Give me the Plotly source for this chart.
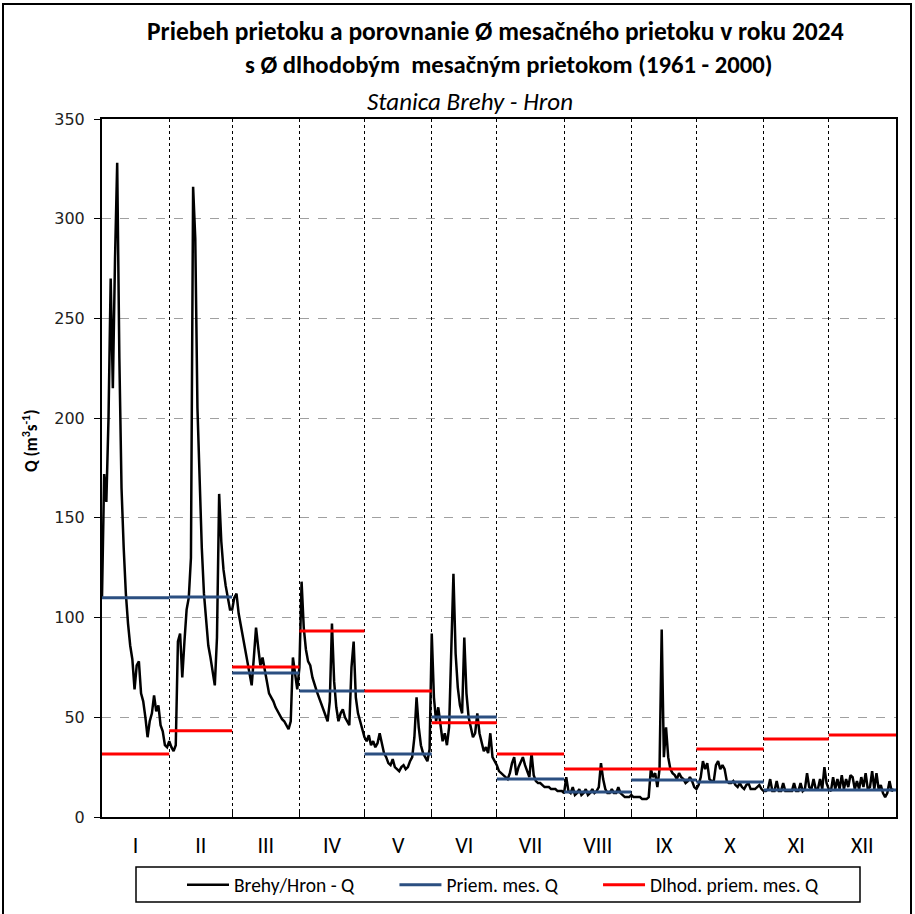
import plotly.graph_objects as go

# ---------------- data ----------------
months = ["I", "II", "III", "IV", "V", "VI", "VII", "VIII", "IX", "X", "XI", "XII"]
month_days = [31, 29, 31, 30, 31, 30, 31, 31, 30, 31, 30, 31]
series_names = ["Brehy/Hron - Q", "Priem. mes. Q", "Dlhod. priem. mes. Q"]

q_jan = [110, 172, 158, 200, 270, 215, 280, 328, 230, 165, 135, 112, 97, 86, 79, 64,
         76, 78, 62, 58, 50, 40, 48, 52, 61, 53, 56, 46, 43, 36, 35]
q_feb = [38, 35, 33, 36, 88, 92, 70, 88, 104, 110, 130, 316, 290, 205, 165, 135, 112,
         98, 86, 80, 74, 66, 90, 162, 138, 124, 116, 110, 104]
q_mar = [104, 110, 112, 102, 96, 90, 84, 78, 70, 66, 80, 95, 85, 76, 80, 74, 68, 62,
         60, 58, 55, 53, 51, 49, 48, 46, 44, 48, 80, 72, 64]
q_apr = [75, 118, 95, 84, 78, 76, 70, 66, 63, 60, 57, 54, 51, 48, 58, 97, 68, 55, 48,
         52, 54, 50, 48, 46, 75, 88, 60, 52, 48, 44]
q_may = [40, 38, 41, 36, 38, 35, 37, 42, 36, 32, 30, 27, 26, 29, 25, 24, 23, 25, 26,
         24, 25, 28, 30, 40, 60, 45, 36, 32, 30, 28, 34]
q_jun = [92, 60, 48, 55, 46, 38, 42, 36, 45, 80, 122, 82, 65, 56, 52, 90, 62, 50, 44,
         40, 42, 52, 42, 38, 33, 35, 32, 42, 30, 28]
q_jul = [26, 23, 22, 21, 20, 19, 22, 27, 30, 21, 25, 28, 30, 26, 23, 20, 32, 21, 18,
         17, 17, 16, 15, 15, 15, 14, 14, 14, 13, 13, 13]
q_aug = [12, 20, 13, 12, 15, 11, 12, 14, 11, 12, 14, 11, 12, 14, 12, 13, 15, 27, 19,
         14, 12, 12, 14, 12, 12, 15, 12, 11, 10, 10, 10]
q_sep = [11, 10, 10, 10, 10, 9, 9, 9, 10, 24, 20, 22, 15, 24, 94, 30, 45, 30, 24, 22,
         21, 19, 22, 20, 19, 17, 18, 20, 18, 15]
q_oct = [14, 16, 20, 28, 24, 27, 19, 18, 18, 26, 28, 24, 26, 24, 18, 17, 17, 18, 16,
         15, 17, 15, 14, 16, 17, 14, 14, 14, 15, 16, 14]
q_nov = [13, 13, 14, 19, 13, 13, 18, 13, 13, 17, 13, 13, 13, 13, 17, 13, 13, 17, 13,
         14, 22, 15, 14, 19, 14, 14, 19, 14, 25, 17]
q_dec = [14, 13, 20, 14, 19, 14, 21, 14, 19, 15, 21, 20, 14, 18, 14, 20, 15, 22, 14,
         15, 23, 14, 22, 14, 16, 12, 10, 12, 18, 13, 14]

monthly_mean_2024 = [110.0, 110.3, 72.2, 63.2, 31.6, 50.1, 19.1, 12.5, 18.6, 17.5, 13.5, 13.5]
longterm_mean = [31.6, 43.3, 75.2, 93.3, 63.2, 47.2, 31.6, 24.1, 24.1, 34.1, 39.1, 41.1]

# ---------------- derived ----------------
daily_q = (q_jan + q_feb + q_mar + q_apr + q_may + q_jun + q_jul + q_aug + q_sep
           + q_oct + q_nov + q_dec)
days = list(range(len(daily_q)))

starts = []
acc = 0
for n in month_days:
    starts.append(acc)
    acc += n
ends = [s + n for s, n in zip(starts, month_days)]
total_days = acc
centers = [(s + e) / 2 for s, e in zip(starts, ends)]

def step_segments(vals):
    xs, ys = [], []
    for s, e, v in zip(starts, ends, vals):
        xs += [s, e, None]
        ys += [v, v, None]
    return xs, ys

bx, by = step_segments(monthly_mean_2024)
rx, ry = step_segments(longterm_mean)

TXT = "Carlito, Lato, sans-serif"
NUM = "'DejaVu Sans', Verdana, sans-serif"
PAD = "\u00a0" * 8   # spacing between legend entries

fig = go.Figure()
fig.add_trace(go.Scatter(x=days, y=daily_q, mode="lines", name=series_names[0] + PAD,
                         line=dict(color="black", width=2.5)))
fig.add_trace(go.Scatter(x=bx, y=by, mode="lines", name=series_names[1] + PAD,
                         line=dict(color="#2B4F81", width=3)))
fig.add_trace(go.Scatter(x=rx, y=ry, mode="lines", name=series_names[2],
                         line=dict(color="#FF0000", width=3)))
fig.add_trace(go.Scatter(x=[0, total_days], y=[None, None], xaxis="x2",
                         showlegend=False, hoverinfo="skip"))

# body margin is removed by post_script, so screen pixels == figure pixels
W, H = 915, 914
PL, PR, PT, PB = 102, 896, 119, 817          # plot box in pixels
L, T = PL, PT
R, B = W - PR, H - PB
pw, ph = PR - PL, PB - PT

def px(xs):
    return (xs - PL) / pw

def py(ys):
    return (PB - ys) / ph

fig.update_layout(
    width=W, height=H,
    margin=dict(l=L, r=R, t=T, b=B, autoexpand=False),
    paper_bgcolor="white", plot_bgcolor="white",
    showlegend=True,
    legend=dict(orientation="h", xref="container", yref="container",
                x=182 / W, xanchor="left", y=(H - 885) / H, yanchor="middle",
                bgcolor="rgba(0,0,0,0)", borderwidth=0,
                font=dict(family=TXT, size=19.5, color="black"),
                itemwidth=42),
    xaxis=dict(range=[0, total_days], tickvals=centers, ticktext=months,
               showgrid=False, zeroline=False, ticks="", showline=True,
               linecolor="black", linewidth=2, mirror=True, automargin=False,
               tickfont=dict(family=TXT, size=22, color="black"),
               ticklabelstandoff=8),
    xaxis2=dict(range=[0, total_days], overlaying="x", side="bottom",
                tickvals=starts[1:], showticklabels=False, showgrid=True,
                gridcolor="black", gridwidth=1, griddash="dot", automargin=False,
                ticks="inside", ticklen=5, tickcolor="black", zeroline=False),
    yaxis=dict(range=[0, 350], dtick=50, showgrid=True, gridcolor="#a0a0a0",
               gridwidth=1, griddash="dash", zeroline=False, automargin=False,
               showline=True, linecolor="black", linewidth=2, mirror=True,
               ticks="outside", ticklen=6, tickcolor="black",
               tickfont=dict(family=NUM, size=16, color="#222"),
               ticklabelstandoff=6),
    shapes=[
        dict(type="rect", xref="paper", yref="paper",
             x0=px(3), x1=px(911), y0=py(930), y1=py(4),
             line=dict(color="black", width=2), fillcolor="rgba(0,0,0,0)", layer="below"),
        dict(type="rect", xref="paper", yref="paper",
             x0=px(136), x1=px(860), y0=py(902), y1=py(867),
             line=dict(color="black", width=1.5), fillcolor="rgba(0,0,0,0)"),
    ],
    annotations=[
        dict(text="<b>Priebeh prietoku a porovnanie Ø mesačného prietoku v roku 2024</b>",
             x=px(495), y=py(32), xref="paper", yref="paper", showarrow=False,
             xanchor="center", yanchor="middle",
             font=dict(family=TXT, size=25.5, color="black")),
        dict(text="<b>s Ø dlhodobým  mesačným prietokom (1961 - 2000)</b>",
             x=px(509), y=py(64), xref="paper", yref="paper", showarrow=False,
             xanchor="center", yanchor="middle",
             font=dict(family=TXT, size=24.7, color="black")),
        dict(text="<i>Stanica Brehy - Hron</i>",
             x=px(470), y=py(101), xref="paper", yref="paper", showarrow=False,
             xanchor="center", yanchor="middle",
             font=dict(family=TXT, size=25, color="black")),
        dict(text="<b>Q (m<sup>3</sup>s<sup>-1</sup>)</b>",
             x=px(30), y=py(441), xref="paper", yref="paper", showarrow=False,
             xanchor="center", yanchor="middle", textangle=-90,
             font=dict(family=TXT, size=17, color="black")),
    ],
)

fig.write_html("out.html",
               config={"displayModeBar": False},
               post_script="document.body.style.margin='0';document.body.style.overflow='hidden';")
